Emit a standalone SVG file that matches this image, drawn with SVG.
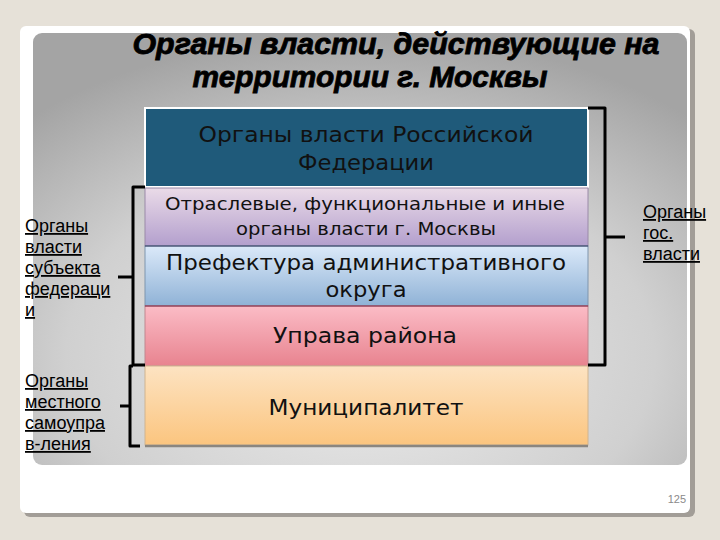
<svg xmlns="http://www.w3.org/2000/svg" width="720" height="540" viewBox="0 0 720 540">
<defs>
<radialGradient id="panelG" cx="0.5" cy="0.75" r="0.75">
<stop offset="0" stop-color="#ececec"/>
<stop offset="0.6" stop-color="#d0d0d0"/>
<stop offset="1" stop-color="#a4a4a4"/>
</radialGradient>
<linearGradient id="g2" x1="0" y1="0" x2="0" y2="1">
<stop offset="0" stop-color="#eadbe8"/>
<stop offset="1" stop-color="#b39fcd"/>
</linearGradient>
<linearGradient id="g3" x1="0" y1="0" x2="0" y2="1">
<stop offset="0" stop-color="#dbe9f9"/>
<stop offset="1" stop-color="#8fb2d6"/>
</linearGradient>
<linearGradient id="g4" x1="0" y1="0" x2="0" y2="1">
<stop offset="0" stop-color="#fbbcc6"/>
<stop offset="1" stop-color="#e8838f"/>
</linearGradient>
<linearGradient id="g5" x1="0" y1="0" x2="0" y2="1">
<stop offset="0" stop-color="#fde3c2"/>
<stop offset="1" stop-color="#fbc57f"/>
</linearGradient>
</defs>
<style>
.title{font-family:"Liberation Sans",Arial,sans-serif;font-weight:bold;font-style:italic;font-size:29px;fill:#000;stroke:#000;stroke-width:0.8}
.bt{font-family:"DejaVu Sans",Verdana,sans-serif;fill:#111;text-anchor:middle}
.lbl{font-family:"Liberation Sans",Arial,sans-serif;font-size:18px;fill:#000;text-decoration:underline}
.br{fill:none;stroke:#000;stroke-width:3;stroke-linejoin:round}
</style>
<rect x="0" y="0" width="720" height="540" fill="#e6e1d8"/>
<rect x="24" y="29" width="671" height="488" rx="6" fill="#a29d97"/>
<rect x="20" y="26" width="670" height="487" rx="6" fill="#ffffff"/>
<rect x="33" y="33" width="654" height="432" rx="9" fill="url(#panelG)"/>
<g id="title">
<text class="title" x="396" y="54" text-anchor="middle" textLength="527" lengthAdjust="spacingAndGlyphs">Органы власти, действующие на</text>
<text class="title" x="370" y="87" text-anchor="middle" textLength="355" lengthAdjust="spacingAndGlyphs">территории г. Москвы</text>
</g>
<g id="box1">
<rect x="145" y="108" width="443" height="79" fill="#1f5a7a" stroke="#ffffff" stroke-width="2"/>
<text class="bt" x="366" y="142" font-size="21" fill="#0c1c2c" textLength="335" lengthAdjust="spacingAndGlyphs">Органы власти Российской</text>
<text class="bt" x="366" y="170" font-size="21" fill="#0c1c2c" textLength="136" lengthAdjust="spacingAndGlyphs">Федерации</text>
</g>
<g id="box2">
<rect x="145" y="188" width="443" height="58" fill="url(#g2)" stroke="#9a8aa8" stroke-width="1"/>
<text class="bt" x="365" y="210" font-size="18" textLength="400" lengthAdjust="spacingAndGlyphs">Отраслевые, функциональные и иные</text>
<text class="bt" x="366" y="235" font-size="18" textLength="260" lengthAdjust="spacingAndGlyphs">органы власти г. Москвы</text>
</g>
<g id="box3">
<rect x="145" y="246" width="443" height="60" fill="url(#g3)" stroke="#7f95ad" stroke-width="1"/>
<line x1="145" y1="246" x2="588" y2="246" stroke="#303a60" stroke-width="1"/>
<text class="bt" x="366" y="270" font-size="21" textLength="400" lengthAdjust="spacingAndGlyphs">Префектура административного</text>
<text class="bt" x="366" y="297" font-size="21" textLength="81" lengthAdjust="spacingAndGlyphs">округа</text>
</g>
<g id="box4">
<rect x="145" y="306" width="443" height="60" fill="url(#g4)" stroke="#c08890" stroke-width="1"/>
<line x1="145" y1="306" x2="588" y2="306" stroke="#802040" stroke-width="1"/>
<text class="bt" x="365" y="343" font-size="22" fill="#2a0a10" textLength="184" lengthAdjust="spacingAndGlyphs">Управа района</text>
</g>
<g id="box5">
<rect x="145" y="366" width="443" height="79" fill="url(#g5)" stroke="#d0b490" stroke-width="1"/>
<line x1="145" y1="446" x2="588" y2="446" stroke="#8a8680" stroke-width="2.5"/>
<text class="bt" x="366" y="415" font-size="22" textLength="195" lengthAdjust="spacingAndGlyphs">Муниципалитет</text>
</g>
<g id="connectors">
<path class="br" d="M588,108 H605 V365 H588"/>
<path class="br" d="M605,237 H625"/>
<path class="br" d="M145,187 H133 V365 H145"/>
<path class="br" d="M118,277 H133"/>
<path class="br" d="M133,366 H130 V446 H140"/>
<path class="br" d="M120,406 H130"/>
</g>
<g id="label-gos">
<text class="lbl" x="643" y="218">Органы</text>
<text class="lbl" x="643" y="239">гос.</text>
<text class="lbl" x="643" y="260">власти</text>
</g>
<g id="label-subject">
<text class="lbl" x="25" y="232">Органы</text>
<text class="lbl" x="25" y="253">власти</text>
<text class="lbl" x="25" y="274">субъекта</text>
<text class="lbl" x="25" y="295">федераци</text>
<text class="lbl" x="25" y="316">и</text>
</g>
<g id="label-local">
<text class="lbl" x="25" y="387">Органы</text>
<text class="lbl" x="25" y="408">местного</text>
<text class="lbl" x="25" y="429">самоупра</text>
<text class="lbl" x="25" y="450">в-ления</text>
</g>
<text x="686" y="503" text-anchor="end" font-family="Liberation Sans,Arial,sans-serif" font-size="11" fill="#8a8a8a">125</text>
</svg>
